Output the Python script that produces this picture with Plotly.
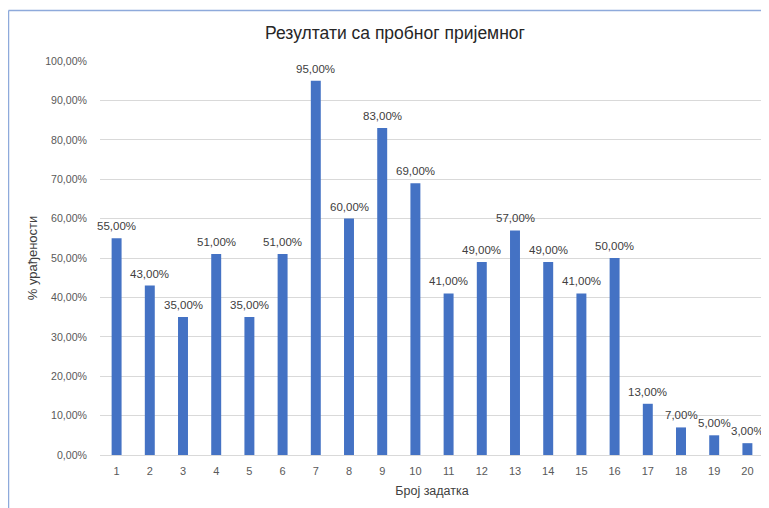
import plotly.graph_objects as go

categories = [str(i) for i in range(1, 21)]
values = [55, 43, 35, 51, 35, 51, 95, 60, 83, 69, 41, 49, 57, 49, 41, 50, 13, 7, 5, 3]
y_ticks = [0, 10, 20, 30, 40, 50, 60, 70, 80, 90, 100]

title = "Резултати са пробног пријемног"
x_title = "Број задатка"
y_title = "% урађености"

OFF = 8  # page body margin
W, H = 769 - OFF, 508 - OFF
L, R, T, B = 100 - OFF, 5, 61 - OFF, 53
pw = W - L - R
ph = H - T - B

def px_x(p):  # screen px -> paper
    return (p - OFF - L) / pw

def px_y(p):
    return (H - B - (p - OFF)) / ph

FONT = "Liberation Sans"
GRAY = "#595959"

fmt = lambda v: f"{v:.2f}".replace(".", ",") + "%"

fig = go.Figure()
fig.add_trace(go.Bar(
    x=categories, y=values,
    marker=dict(color="#4472C4", line=dict(width=0)),
    hoverinfo="skip",
))

# on a category axis, annotation x is the category index
annotations = [
    dict(x=i, y=v, xref="x", yref="y", text=fmt(v), showarrow=False,
         yanchor="bottom", yshift=4,
         font=dict(family=FONT, size=11.5, color="#404040"))
    for i, v in enumerate(values)
]

fig.update_layout(
    width=W, height=H,
    margin=dict(l=L, r=R, t=T, b=B),
    paper_bgcolor="white", plot_bgcolor="white",
    bargap=0.7,
    showlegend=False,
    font=dict(family=FONT, color=GRAY),
    title=dict(text=title, xref="container", x=(395 - OFF) / W, xanchor="center",
               yref="container", y=1 - (33 - OFF) / H, yanchor="middle",
               font=dict(family=FONT, size=17.5, color="#262626")),
    xaxis=dict(
        type="category", automargin=False, showgrid=False, showline=True, linecolor="#d9d9d9", linewidth=1,
        range=[-0.5, len(categories) - 0.5],
        ticks="", ticklabelstandoff=6, tickfont=dict(size=11, color=GRAY, family=FONT),
        title=dict(text=x_title, font=dict(size=12.5, color="#404040", family=FONT), standoff=10),
    ),
    yaxis=dict(
        range=[0, 100], automargin=False, tickvals=y_ticks,
        ticktext=[fmt(v) for v in y_ticks],
        showgrid=True, gridcolor="#d9d9d9", gridwidth=1, zeroline=False,
        ticks="", ticklabelstandoff=12,
        tickfont=dict(size=10.6, color=GRAY, family=FONT),
        title=dict(text=y_title, font=dict(size=13, color="#404040", family=FONT), standoff=4),
    ),
    annotations=annotations,
    shapes=[
        dict(type="line", xref="paper", yref="paper", x0=px_x(8.5), x1=px_x(8.5), y0=px_y(10.5), y1=px_y(520),
             line=dict(color="#8eaadb", width=1.5)),
        dict(type="line", xref="paper", yref="paper", x0=px_x(8.5), x1=px_x(780), y0=px_y(10.5), y1=px_y(10.5),
             line=dict(color="#8eaadb", width=1.5)),
    ],
)

fig.write_html("out.html")
